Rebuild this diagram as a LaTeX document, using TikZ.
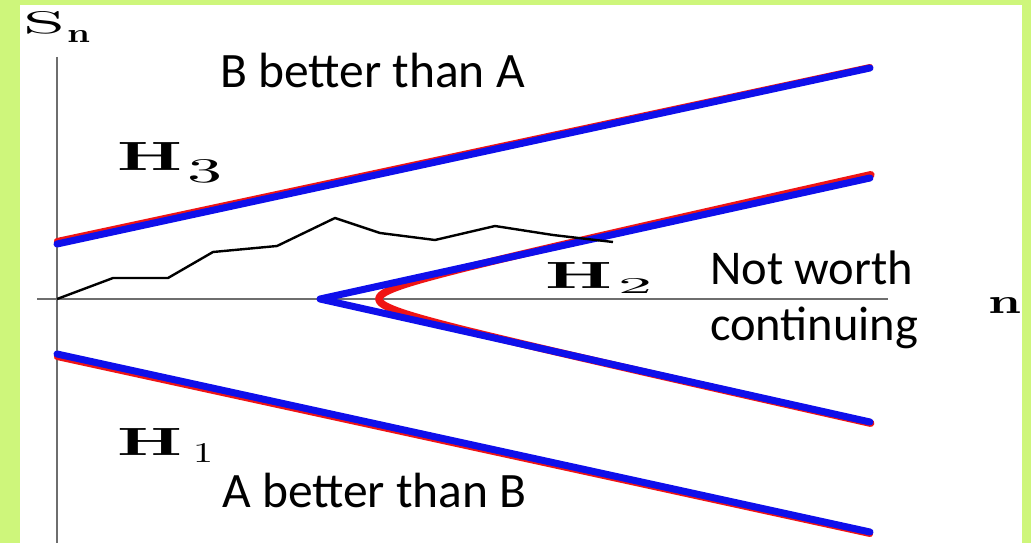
\documentclass[tikz,border=0pt]{standalone}
\usepackage{fontspec}
\newfontfamily\calib{Carlito}
\usepackage{graphicx}
\definecolor{framegreen}{RGB}{206,246,123}
\definecolor{lineblue}{RGB}{15,15,235}
\definecolor{linered}{RGB}{240,20,20}
\definecolor{axisgray}{RGB}{110,110,110}
\tikzset{
  bound/.style={lineblue, line width=7pt, line cap=round, line join=round},
  boundred/.style={linered, line width=6pt, line cap=round, line join=round},
  axisline/.style={axisgray, line width=1.2pt},
  walk/.style={black, line width=2.4pt, line join=round},
  lbl/.style={inner sep=0pt, anchor=base west, font=\calib\fontsize{49.5}{56}\selectfont},
  sym/.style={inner sep=0pt, anchor=base west}
}
\begin{document}
\begin{tikzpicture}[x=1pt,y=-1pt]
\useasboundingbox (0,0) rectangle (1031,543);
\fill[framegreen] (0,0) rectangle (1031,543);
\fill[white] (20,5) rectangle (1022,543);

% axes
\coordinate (yaxtop) at (57,57);
\coordinate (yaxbot) at (57,543);
\coordinate (xaxl) at (37,299);
\coordinate (xaxr) at (888,299);
\draw[axisline] (yaxtop) -- (yaxbot);
\draw[axisline] (xaxl) -- (xaxr);

% upper boundary
\coordinate (ua) at (57,244);
\coordinate (ub) at (870,68);
\coordinate (uar) at (57,241);
\coordinate (ubr) at (870,67);
\draw[boundred] (uar) -- (ubr);
\draw[bound] (ua) -- (ub);

% lower boundary
\coordinate (la) at (57,354);
\coordinate (lb) at (870,532);
\coordinate (lar) at (57,357);
\coordinate (lbr) at (870,534);
\draw[boundred] (lar) -- (lbr);
\draw[bound] (la) -- (lb);

% red hyperbola
\draw[boundred, line width=7.5pt] plot[domain=-2.772:2.772, samples=120, variable=\t]
  ({309+70*cosh(\t)}, {299+15.6*sinh(\t)});

% V
\coordinate (vtop) at (870,178);
\coordinate (vtip) at (320,299);
\coordinate (vbot) at (870,422);
\draw[bound] (vtop) -- (vtip) -- (vbot);

% random walk
\draw[walk] (57,299) -- (113,278) -- (168,278) -- (213,252) -- (277,246)
  -- (335,218) -- (380,233) -- (435,240) -- (495,226) -- (553,235)
  -- (587,239) -- (613,242);

% axis labels
\node[sym] (S) at (23,34) {\resizebox{42pt}{22pt}{S}};
\node[sym] (Ssub) at (67,42) {\resizebox{23pt}{12pt}{\textbf{n}}};
\node[sym] (nlab) at (988,313) {\resizebox{33pt}{16pt}{\textbf{n}}};

% H labels
\node[sym] (H3) at (117,170) {\resizebox{65pt}{28pt}{\textbf{H}}};
\node[sym] (H3s) at (187,182) {\resizebox{35pt}{23pt}{3}};
\node[sym] (H2) at (545,288) {\resizebox{67pt}{26pt}{\textbf{H}}};
\node[sym] (H2s) at (618,293) {\resizebox{34pt}{15pt}{2}};
\node[sym] (H1) at (117,455) {\resizebox{65pt}{27pt}{\textbf{H}}};
\node[sym] (H1s) at (193,462) {\resizebox{20pt}{19pt}{1}};

% text labels
\node[lbl] (tB) at (220,88) {B better than A};
\node[lbl, font=\calib\fontsize{48.5}{56}\selectfont] (tN1) at (710,284) {Not worth};
\node[lbl, font=\calib\fontsize{48.5}{56}\selectfont] (tN2) at (710,340) {continuing};
\node[lbl] (tA) at (222,507) {A better than B};

% right green strip on top
\fill[framegreen] (1022,0) rectangle (1031,543);
\end{tikzpicture}
\end{document}
